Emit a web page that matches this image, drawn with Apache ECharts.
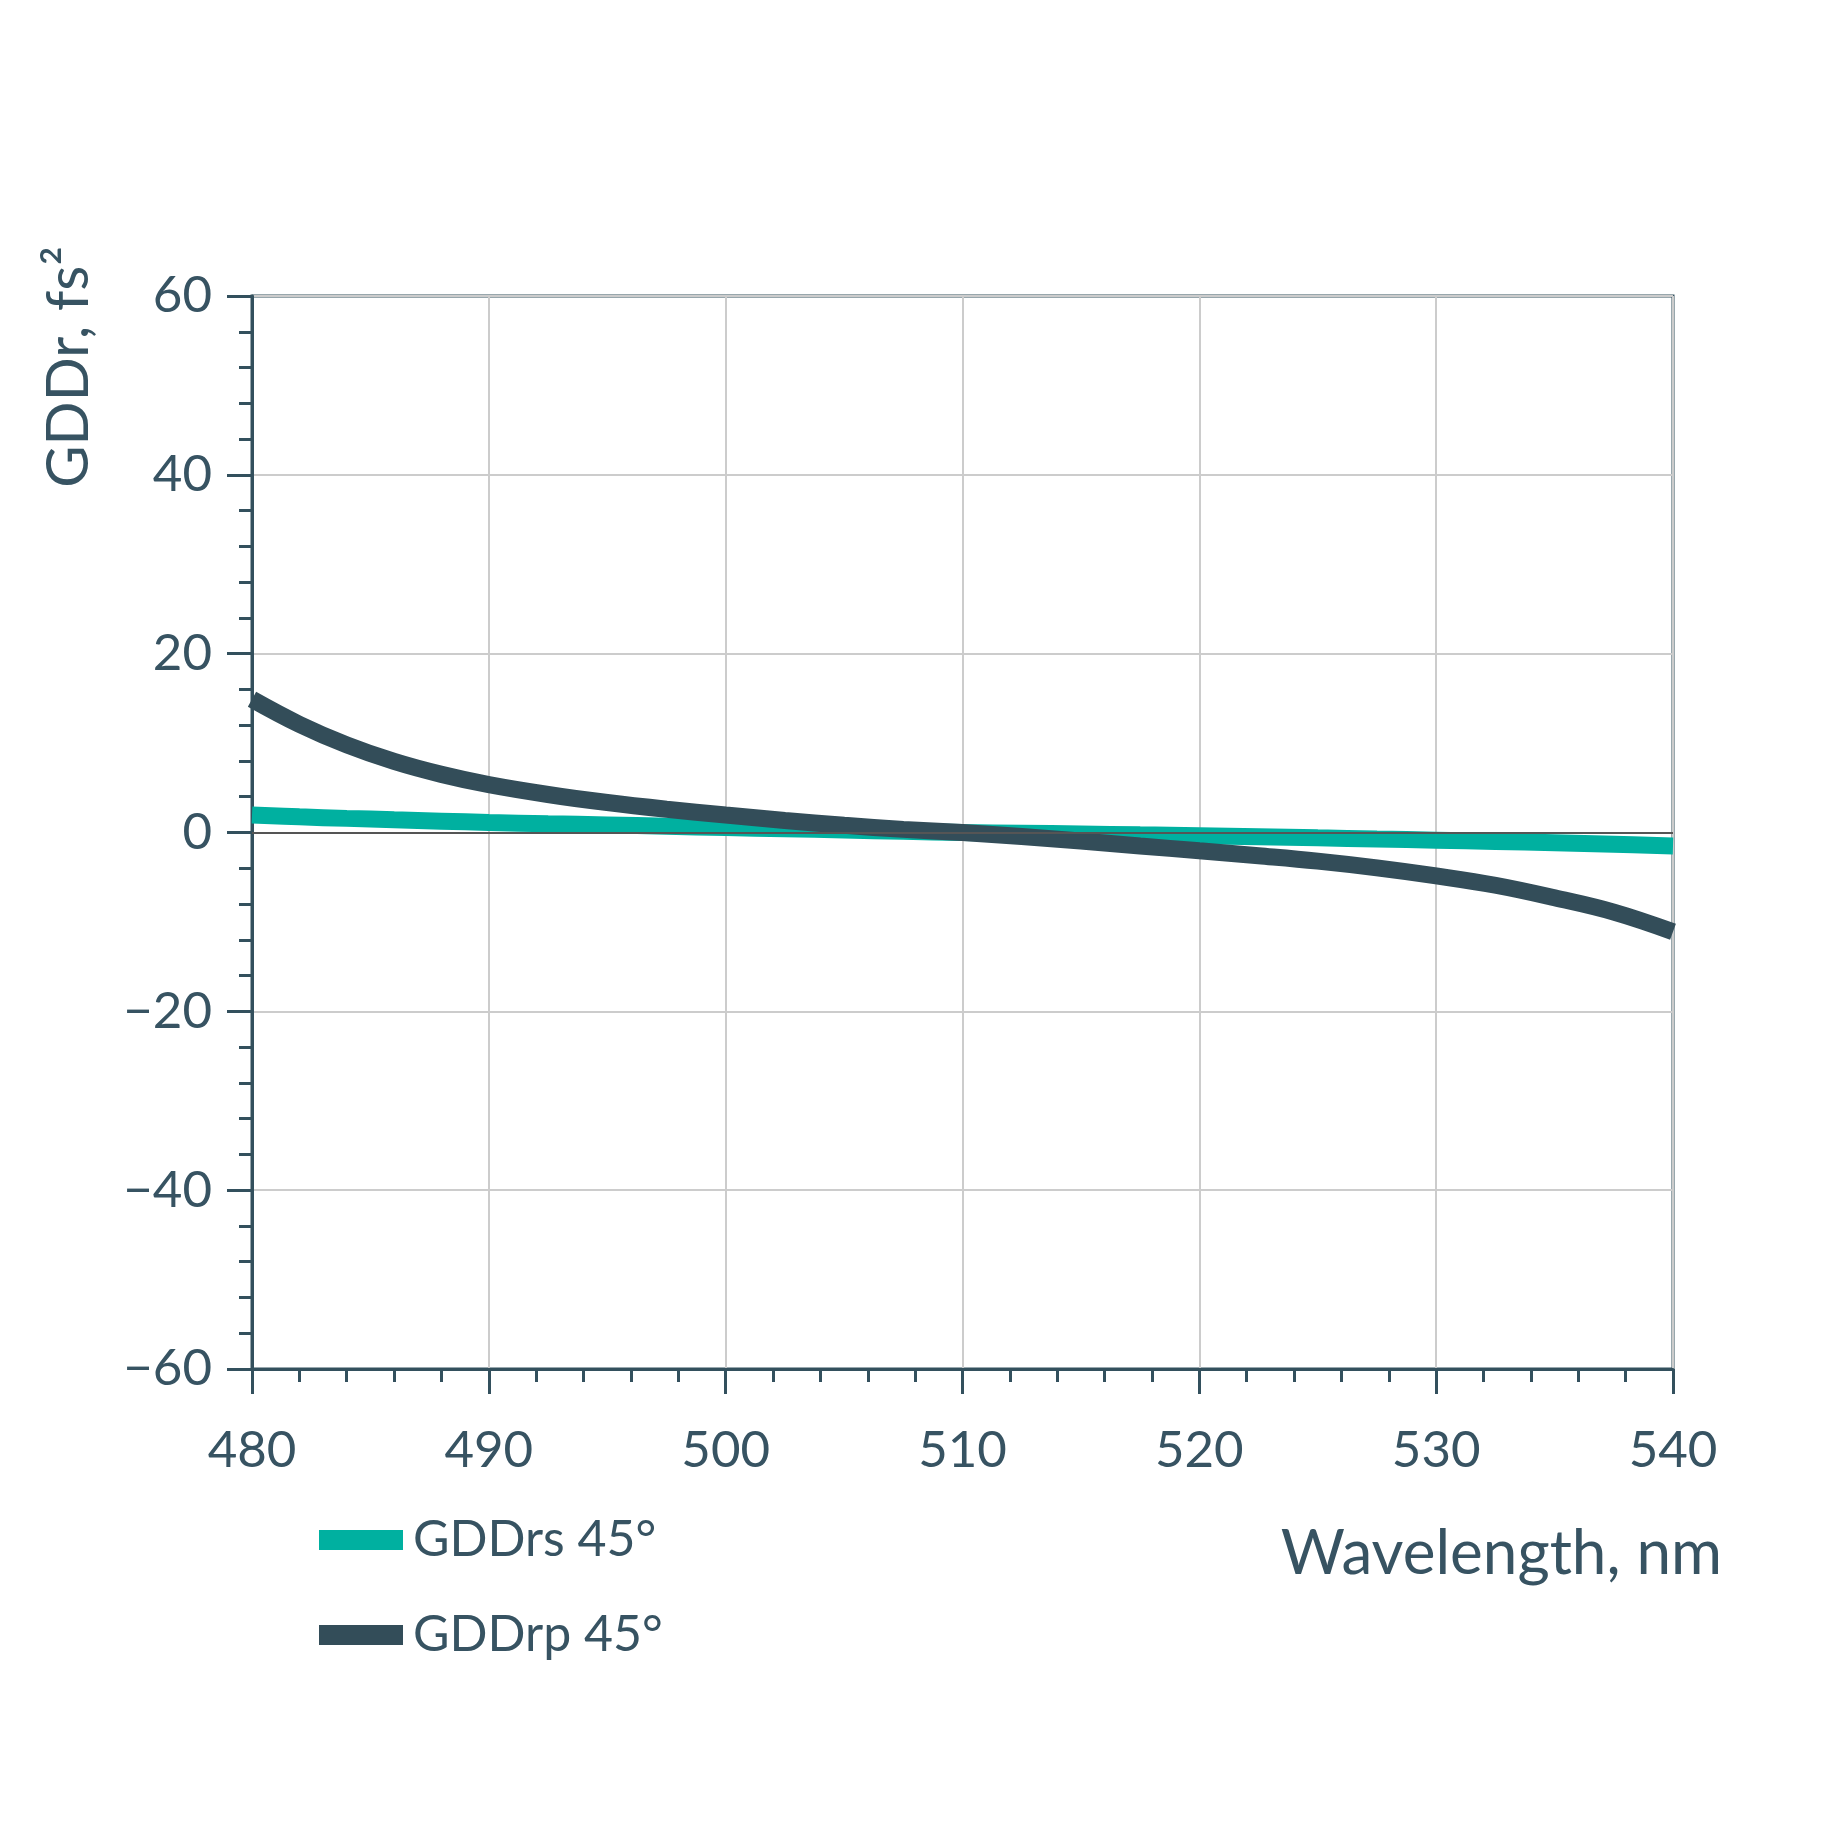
<!DOCTYPE html>
<html>
<head>
<meta charset="utf-8">
<script src="https://cdn.jsdelivr.net/npm/echarts@6/dist/echarts.min.js"></script>
<style>
html,body{margin:0;padding:0;background:#fff;}
#chart{width:1848px;height:1848px;}
</style>
</head>
<body>
<div id="chart"></div>
<script>
var wavelengths = [480, 482, 484, 486, 488, 490, 492.5, 495, 497.5, 500, 502.5, 505, 507.5, 510, 512.5, 515, 517.5, 520, 522.5, 525, 527.5, 530, 532.5, 535, 537.5, 540];
var gddrs45 = [1.95, 1.75, 1.58, 1.42, 1.27, 1.12, 0.97, 0.85, 0.7, 0.55, 0.42, 0.28, 0.13, 0, -0.08, -0.17, -0.26, -0.35, -0.47, -0.6, -0.73, -0.86, -1.0, -1.15, -1.32, -1.5];
var gddrp45 = [14.9, 12.1, 9.8, 7.95, 6.5, 5.35, 4.25, 3.35, 2.6, 1.95, 1.35, 0.8, 0.35, 0, -0.45, -0.95, -1.5, -2.05, -2.6, -3.2, -3.95, -4.85, -5.9, -7.3, -8.9, -11.1];
var seriesNames = ['GDDrs 45°', 'GDDrp 45°'];
var xTitle = 'Wavelength, nm';
var yTitle = 'GDDr, fs²';

var TEXT = '#375362';
var AXIS = '#33505d';
var TEAL = '#00b0a0';
var DARK = '#334d59';
var FONT = 'Lato';

function pairs(xs, ys) { return xs.map(function (x, i) { return [x, ys[i]]; }); }

var chart = echarts.init(document.getElementById('chart'), null, {renderer: 'canvas'});
chart.setOption({
  backgroundColor: '#ffffff',
  animation: false,
  grid: {
    left: 252, top: 296, width: 1421, height: 1073,
    show: true, borderColor: AXIS, borderWidth: 3, backgroundColor: 'transparent'
  },
  legend: {
    orient: 'vertical',
    left: 314, top: 1505,
    itemWidth: 84, itemHeight: 20, itemGap: 35,
    icon: 'rect',
    textStyle: {fontFamily: FONT, fontSize: 50, color: TEXT, lineHeight: 60, padding: [0, 0, 0, 5]},
    data: seriesNames
  },
  xAxis: {
    type: 'value', min: 480, max: 540, interval: 10,
    axisLine: {show: true, onZero: false, lineStyle: {color: AXIS, width: 3}},
    axisTick: {show: true, length: 25, lineStyle: {color: AXIS, width: 3}},
    minorTick: {show: true, splitNumber: 5, length: 13, lineStyle: {color: AXIS, width: 3}},
    splitLine: {show: true, lineStyle: {color: '#cccccc', width: 2}},
    axisLabel: {margin: 56, fontFamily: FONT, fontSize: 51, color: TEXT}
  },
  yAxis: {
    type: 'value', min: -60, max: 60, interval: 20,
    axisLine: {show: true, onZero: false, lineStyle: {color: AXIS, width: 3}},
    axisTick: {show: true, length: 25, lineStyle: {color: AXIS, width: 3}},
    minorTick: {show: true, splitNumber: 5, length: 13, lineStyle: {color: AXIS, width: 3}},
    splitLine: {show: true, lineStyle: {color: '#cccccc', width: 2}},
    axisLabel: {margin: 40, fontFamily: FONT, fontSize: 51, color: TEXT,
      formatter: function (v) { return String(v).replace('-', '\u2212'); }}
  },
  graphic: [
    {type: 'text', x: 1722, y: 1554, style: {text: xTitle, fontFamily: FONT, fontSize: 62, fill: TEXT, align: 'right', verticalAlign: 'middle'}},
    {type: 'text', x: 69, y: 367, rotation: Math.PI / 2, style: {text: yTitle, fontFamily: FONT, fontSize: 58, fill: TEXT, align: 'center', verticalAlign: 'middle'}}
  ],
  series: [
    {
      name: seriesNames[0], type: 'line', data: pairs(wavelengths, gddrs45),
      smooth: 0.4, showSymbol: false, symbol: 'none', color: TEAL,
      lineStyle: {color: TEAL, width: 17, cap: 'butt'},
      markLine: {silent: true, symbol: 'none', label: {show: false},
        lineStyle: {color: '#555555', width: 2, type: 'solid'}, data: [{yAxis: 0}]},
      z: 2
    },
    {
      name: seriesNames[1], type: 'line', data: pairs(wavelengths, gddrp45),
      smooth: 0.4, showSymbol: false, symbol: 'none', color: DARK,
      lineStyle: {color: DARK, width: 17, cap: 'butt'},
      z: 3
    }
  ]
});
</script>
</body>
</html>
